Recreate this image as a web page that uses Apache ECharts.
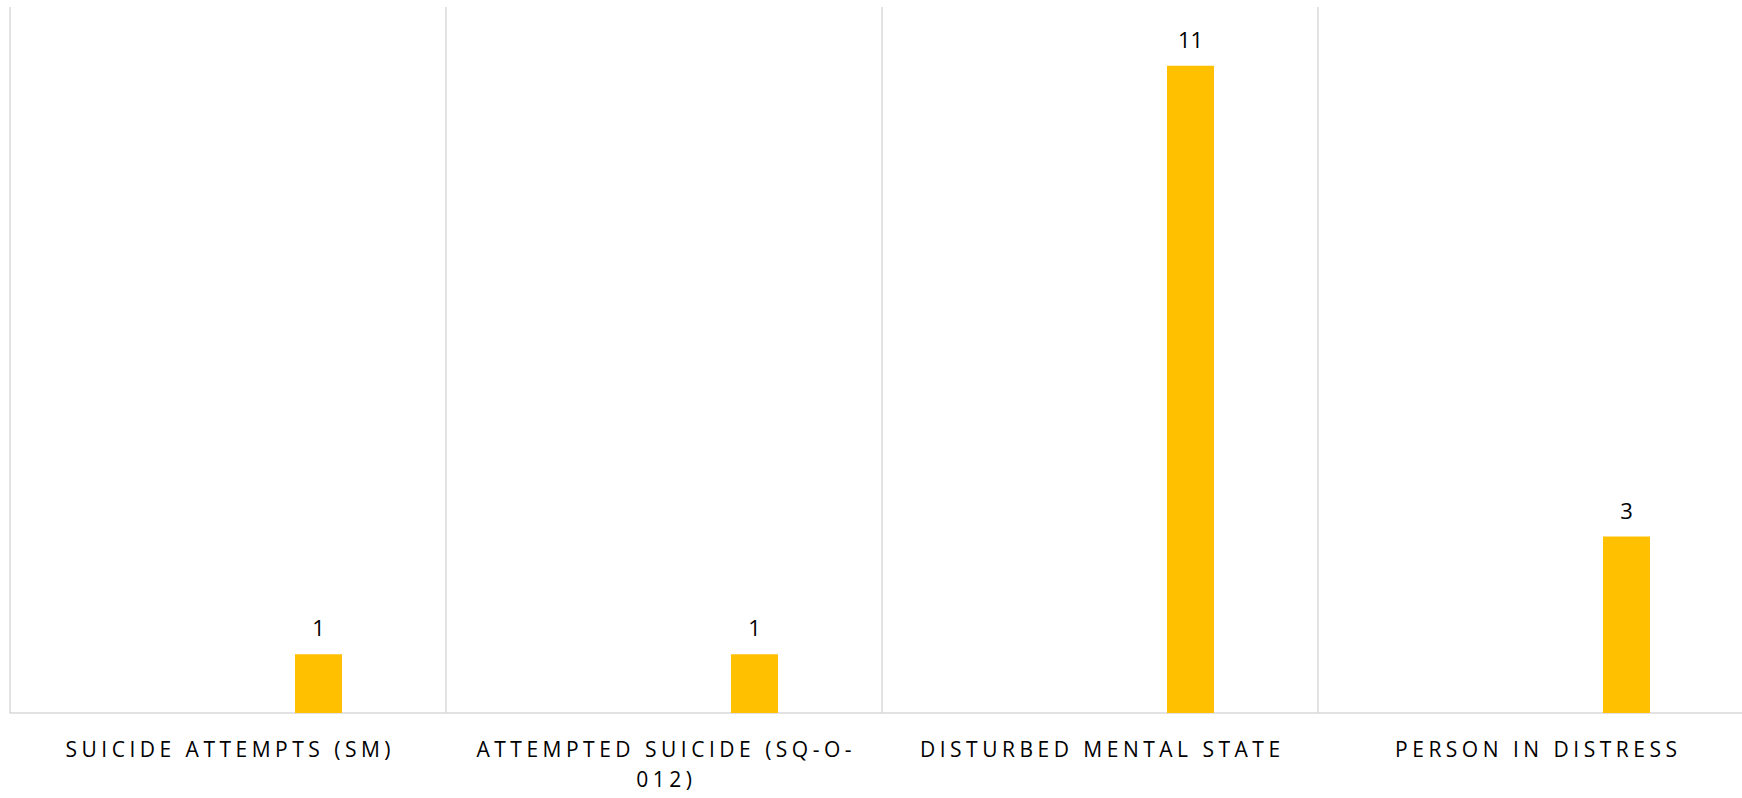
<!DOCTYPE html>
<html>
<head>
<meta charset="utf-8">
<script src="https://cdn.jsdelivr.net/npm/echarts@6/dist/echarts.min.js"></script>
<style>
html,body{margin:0;padding:0;background:#fff;overflow:hidden;width:1742px;height:798px;}
#chart{width:1754px;height:798px;}
</style>
</head>
<body>
<div id="chart"></div>
<script>
// Data
const categories = ["SUICIDE ATTEMPTS (SM)", "ATTEMPTED SUICIDE (SQ-O-012)", "DISTURBED MENTAL STATE", "PERSON IN DISTRESS"];
const placeholderValues = [null, null, null, null]; // empty series in the source chart
const countValues = [1, 1, 11, 3];
const yMax = 12;

function wrapLabel(s) {
  const maxChars = 24;
  if (s.length <= maxChars) return s;
  const head = s.slice(0, maxChars);
  let cut = Math.max(head.lastIndexOf('-'), head.lastIndexOf(' '));
  if (cut < 0) cut = maxChars - 1;
  return s.slice(0, cut + 1).trim() + '\n' + s.slice(cut + 1).trim();
}

const chart = echarts.init(document.getElementById('chart'), null, {renderer: 'svg'});
chart.setOption({
  animation: false,
  grid: {left: 10, top: 7, bottom: 85, right: 0, containLabel: false},
  xAxis: {
    type: 'category',
    data: categories,
    boundaryGap: true,
    axisLine: {show: true, lineStyle: {color: '#d9d9d9', width: 1.5}},
    axisTick: {show: false},
    splitLine: {show: true, lineStyle: {color: '#d9d9d9', width: 1.5}},
    axisLabel: {
      interval: 0,
      margin: 21,
      fontFamily: 'Open Sans',
      fontSize: 21,
      lineHeight: 30,
      color: '#000',
      formatter: wrapLabel
    }
  },
  yAxis: {
    type: 'value',
    min: 0, max: yMax,
    show: false,
    splitLine: {show: false}
  },
  series: [
    {
      name: 'Other',
      type: 'bar',
      data: placeholderValues,
      barWidth: 47,
      barGap: '285%',
      itemStyle: {color: '#5B9BD5'}
    },
    {
      name: 'Count',
      type: 'bar',
      data: countValues,
      barWidth: 47,
      itemStyle: {color: '#FFC000'},
      label: {
        show: true,
        position: 'top',
        distance: 16,
        fontFamily: 'Open Sans',
        fontSize: 22,
        color: '#000'
      }
    }
  ]
});

function spaceLabels() {
  const spacing = 4.5;
  document.querySelectorAll('#chart text').forEach(t => {
    const txt = (t.textContent || '').trim();
    if (/^\d+$/.test(txt)) return;
    t.style.letterSpacing = spacing + 'px';
    t.setAttribute('dx', String(spacing / 2));
  });
}
chart.on('finished', spaceLabels);
setTimeout(spaceLabels, 0);
setTimeout(spaceLabels, 100);
</script>
</body>
</html>
